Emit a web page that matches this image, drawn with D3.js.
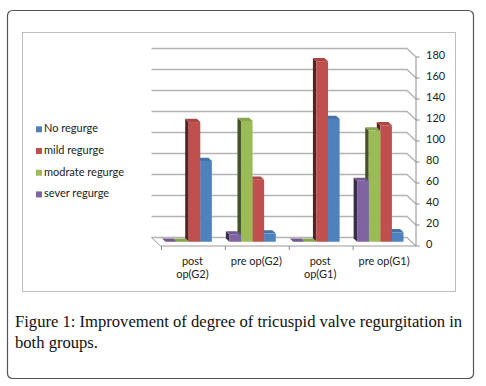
<!DOCTYPE html>
<html>
<head>
<meta charset="utf-8">
<script src="https://cdn.jsdelivr.net/npm/d3@7"></script>
<style>
  body { margin: 0; background: #fff; }
  svg { display: block; }
</style>
</head>
<body>
<svg id="chart" width="486" height="386"></svg>
<script>
// ---- data ----
const categories = ["post op(G2)", "pre op(G2)", "post op(G1)", "pre op(G1)"];
const categoryLines = [["post", "op(G2)"], ["pre op(G2)"], ["post", "op(G1)"], ["pre op(G1)"]];
const seriesNames = ["sever regurge", "modrate regurge", "mild regurge", "No regurge"];
const severValues = [0, 7, 0, 58];
const modrateValues = [0, 115, 0, 106];
const mildValues = [114, 59, 172, 111];
const noValues = [77, 8, 117, 9];
const seriesColors = ["#8064A2", "#9BBB59", "#C0504D", "#4F81BD"];
const yTicks = [0, 20, 40, 60, 80, 100, 120, 140, 160, 180];
const legendOrder = ["No regurge", "mild regurge", "modrate regurge", "sever regurge"];

const seriesValues = [severValues, modrateValues, mildValues, noValues];

const svg = d3.select("#chart");
const font = "Lato, 'Open Sans', sans-serif";

// outer figure box and inner chart frame
svg.append("rect")
  .attr("x", 7.5).attr("y", 10.5).attr("width", 466).attr("height", 368)
  .attr("rx", 5).attr("fill", "none").attr("stroke", "#555").attr("stroke-width", 1.2);
svg.append("rect")
  .attr("x", 22.5).attr("y", 32.5).attr("width", 433).attr("height", 259)
  .attr("fill", "none").attr("stroke", "#bdbdbd").attr("stroke-width", 1);

// 3D projection: back wall sits up-left of the front plane
const depth = { dx: -9, dy: -8.5 };
const barPlane = { dx: -4.5, dy: -4.25 };
const barDepth = { dx: -3.5, dy: -3.2 };

const x = d3.scaleBand().domain(categories).range([160.5, 416]);
const y = d3.scaleLinear().domain([0, 180]).range([246, 57]);
const sub = d3.scaleBand().domain(seriesNames).range([9.5, x.bandwidth() - 8]);

const grid = svg.append("g");
// back-wall gridlines with the diagonal running to the front axis
yTicks.forEach(t => {
  const yb = y(t) + depth.dy;
  grid.append("path")
    .attr("d", `M${x.range()[0] + depth.dx},${yb} L${x.range()[1] + depth.dx},${yb} L${x.range()[1]},${y(t)}`)
    .attr("fill", "none").attr("stroke", "#b3b3b3").attr("stroke-width", 1.3);
});
// floor edges
grid.append("path")
  .attr("d", `M${x.range()[0] + depth.dx},${y(0) + depth.dy} L${x.range()[0]},${y(0)} L${x.range()[1]},${y(0)}`)
  .attr("fill", "none").attr("stroke", "#9a9a9a").attr("stroke-width", 1);

// vertical axis at the front right
const axis = svg.append("g");
axis.append("line")
  .attr("x1", x.range()[1]).attr("x2", x.range()[1])
  .attr("y1", y(180)).attr("y2", y(0))
  .attr("stroke", "#8c8c8c");
yTicks.forEach(t => {
  axis.append("line")
    .attr("x1", x.range()[1]).attr("x2", x.range()[1] + 3.5)
    .attr("y1", y(t)).attr("y2", y(t)).attr("stroke", "#8c8c8c");
  axis.append("text")
    .attr("x", 426).attr("y", y(t) - 0.5)
    .attr("dominant-baseline", "middle")
    .attr("font-family", font).attr("font-size", 11).attr("fill", "#222")
    .text(t);
});

// category axis ticks and labels
categories.forEach((c, i) => {
  axis.append("line")
    .attr("x1", x(c) + 1).attr("x2", x(c) + 1)
    .attr("y1", y(0)).attr("y2", y(0) + 4).attr("stroke", "#8c8c8c");
  categoryLines[i].forEach((ln, j) => {
    axis.append("text")
      .attr("x", x(c) + x.bandwidth() / 2)
      .attr("y", 262 + j * 13.5)
      .attr("dominant-baseline", "middle")
      .attr("text-anchor", "middle")
      .attr("font-family", font).attr("font-size", 11).attr("fill", "#222")
      .text(ln);
  });
});

// 3D columns, drawn right to left so left-hand bars cover neighbours' side faces
const bars = svg.append("g");
for (let ci = categories.length - 1; ci >= 0; ci--) {
  for (let si = seriesNames.length - 1; si >= 0; si--) {
    const v = seriesValues[si][ci];
    const col = d3.color(seriesColors[si]);
    const xl = x(categories[ci]) + sub(seriesNames[si]) + barPlane.dx;
    const xr = xl + sub.bandwidth();
    const yt = y(v) + barPlane.dy;
    const yb = y(0) + barPlane.dy;
    const pts = a => a.map(p => p.join(",")).join(" ");
    // left side face
    bars.append("polygon")
      .attr("points", pts([[xl, yt], [xl + barDepth.dx, yt + barDepth.dy], [xl + barDepth.dx, yb + barDepth.dy], [xl, yb]]))
      .attr("fill", col.darker(2.3));
    // top face
    bars.append("polygon")
      .attr("points", pts([[xl, yt], [xr, yt], [xr + barDepth.dx, yt + barDepth.dy], [xl + barDepth.dx, yt + barDepth.dy]]))
      .attr("fill", col.darker(0.35));
    // front face
    bars.append("rect")
      .attr("x", xl).attr("y", yt)
      .attr("width", xr - xl).attr("height", yb - yt)
      .attr("fill", col);
  }
}

// legend
const legend = svg.append("g");
legendOrder.forEach((name, i) => {
  const cy = 129.5 + i * 21.7;
  legend.append("rect")
    .attr("x", 36).attr("y", cy - 3.2).attr("width", 6).attr("height", 6)
    .attr("fill", seriesColors[seriesNames.indexOf(name)]);
  legend.append("text")
    .attr("x", 44).attr("y", cy)
    .attr("dominant-baseline", "middle")
    .attr("font-family", font).attr("font-size", 11).attr("fill", "#222")
    .text(name);
});

// caption
const serif = "'Liberation Serif', 'DejaVu Serif', serif";
svg.append("text")
  .attr("x", 15).attr("y", 327)
  .attr("font-family", serif).attr("font-size", 16.6).attr("fill", "#111")
  .text("Figure 1: Improvement of degree of tricuspid valve regurgitation in");
svg.append("text")
  .attr("x", 15).attr("y", 348)
  .attr("font-family", serif).attr("font-size", 16.6).attr("fill", "#111")
  .text("both groups.");
</script>
</body>
</html>
